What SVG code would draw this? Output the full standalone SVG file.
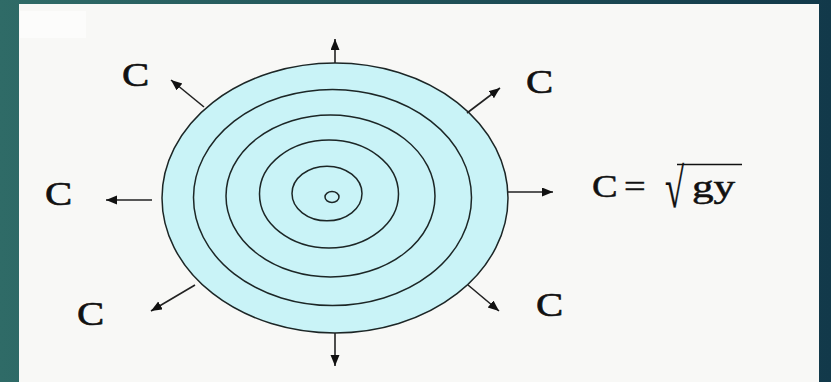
<svg xmlns="http://www.w3.org/2000/svg" width="831" height="382" viewBox="0 0 831 382">
<style>
.ring{fill:none;stroke:#1c2626;stroke-width:1.5}
.arr{stroke:#222;stroke-width:1.6;fill:none;marker-end:url(#ah)}
.lab{font-family:"Liberation Serif","Times New Roman",serif;font-size:34px;fill:#111;stroke:#111;stroke-width:0.6}
.fl{font-family:"Liberation Serif","Times New Roman",serif;font-size:32px;fill:#111;stroke:#111;stroke-width:0.5}
</style>
<defs>
<linearGradient id="bg" x1="0" y1="0" x2="1" y2="0">
<stop offset="0" stop-color="#2f6b67"/>
<stop offset="1" stop-color="#12394a"/>
</linearGradient>
<marker id="ah" markerUnits="userSpaceOnUse" markerWidth="12" markerHeight="10" refX="11" refY="4.5" orient="auto">
<path d="M0,0 L11,4.5 L0,9 z" fill="#111"/>
</marker>
</defs>
<rect x="0" y="0" width="831" height="382" fill="url(#bg)"/>
<rect x="19" y="4" width="800" height="378" fill="#f8f8f6"/>
<rect x="20" y="11" width="66" height="27" fill="#fcfcfb"/>
<g id="wave">
<ellipse cx="335" cy="198" rx="173" ry="135" fill="#c9f3f7" stroke="#1c2626" stroke-width="1.5"/>
<ellipse class="ring" cx="332.5" cy="197.5" rx="139" ry="108"/>
<ellipse class="ring" cx="330.5" cy="196" rx="104.5" ry="81"/>
<ellipse class="ring" cx="329" cy="194" rx="69.5" ry="54"/>
<ellipse class="ring" cx="327" cy="193.5" rx="35" ry="27.3"/>
<ellipse class="ring" cx="332" cy="197" rx="7" ry="5.5"/>
</g>
<g id="connectors">
<line class="arr" x1="335" y1="63" x2="335" y2="39"/>
<line class="arr" x1="335" y1="333" x2="335" y2="366"/>
<line class="arr" x1="152" y1="200" x2="106" y2="200"/>
<line class="arr" x1="508" y1="192" x2="553" y2="192"/>
<line class="arr" x1="204" y1="107" x2="171" y2="80"/>
<line class="arr" x1="467" y1="113" x2="500" y2="88"/>
<line class="arr" x1="195" y1="285" x2="151" y2="311"/>
<line class="arr" x1="468" y1="285" x2="499" y2="311"/>
</g>
<g id="label-tl"><text class="lab" transform="translate(122,86) scale(1.2,1)">C</text></g>
<g id="label-tr"><text class="lab" transform="translate(526,93) scale(1.2,1)">C</text></g>
<g id="label-l"><text class="lab" transform="translate(45,205) scale(1.2,1)">C</text></g>
<g id="label-bl"><text class="lab" transform="translate(77,325) scale(1.2,1)">C</text></g>
<g id="label-br"><text class="lab" transform="translate(536,316) scale(1.2,1)">C</text></g>
<g id="label-formula">
<text class="fl" transform="translate(592,197) scale(1.2,1)">C</text>
<text class="fl" transform="translate(624,197) scale(1.2,1)">=</text>
<text class="fl" style="font-size:56px;stroke-width:0.3" transform="translate(665,207) scale(0.62,1)">√</text>
<line x1="677" y1="164.5" x2="742" y2="164.5" stroke="#111" stroke-width="1.5"/>
<text class="fl" transform="translate(692,197) scale(1.35,1)">gy</text>
</g>
</svg>
